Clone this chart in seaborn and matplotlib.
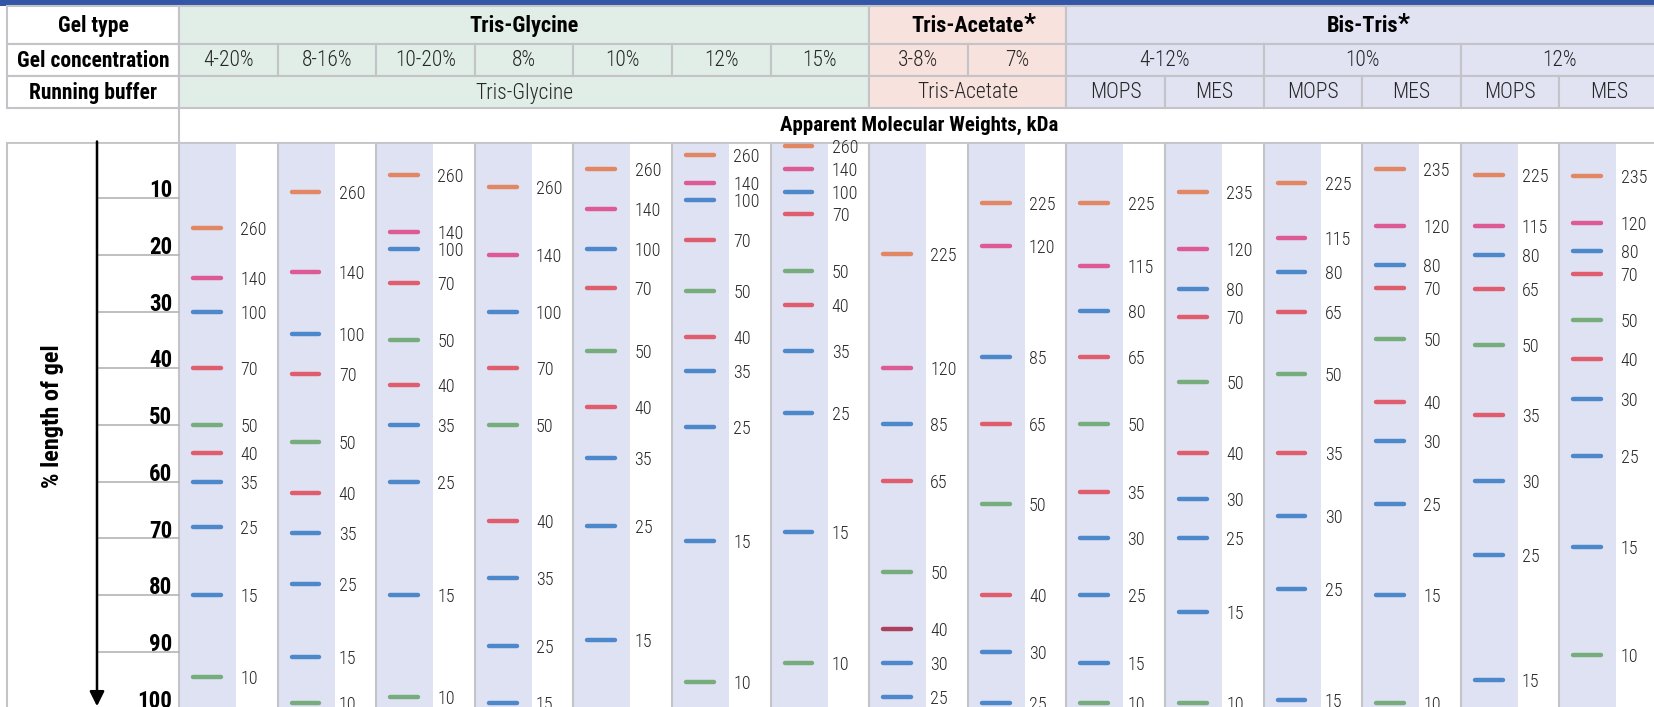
import matplotlib
matplotlib.use("Agg")
import matplotlib.pyplot as plt
from matplotlib import font_manager
from matplotlib.patches import Rectangle
import seaborn as sns

# ---- header table text ----
gel_types = ["Tris-Glycine", "Tris-Acetate", "Bis-Tris"]
gel_type_spans = [7, 2, 6]
gel_type_star = [False, True, True]
concentrations = ["4-20%", "8-16%", "10-20%", "8%", "10%", "12%", "15%",
                  "3-8%", "7%", "4-12%", "10%", "12%"]
conc_spans = [1, 1, 1, 1, 1, 1, 1, 1, 1, 2, 2, 2]
buffers = ["Tris-Glycine", "Tris-Acetate", "MOPS", "MES", "MOPS", "MES", "MOPS", "MES"]
buffer_spans = [7, 2, 1, 1, 1, 1, 1, 1]
row_titles = ["Gel type", "Gel concentration", "Running buffer"]
axis_ticks = [10, 20, 30, 40, 50, 60, 70, 80, 90, 100]

# ---- bands: apparent MW (kDa), migration (% length of gel), colour key ----
lane_mw = [
    [260, 140, 100, 70, 50, 40, 35, 25, 15, 10],
    [260, 140, 100, 70, 50, 40, 35, 25, 15, 10],
    [260, 140, 100, 70, 50, 40, 35, 25, 15, 10],
    [260, 140, 100, 70, 50, 40, 35, 25, 15],
    [260, 140, 100, 70, 50, 40, 35, 25, 15],
    [260, 140, 100, 70, 50, 40, 35, 25, 15, 10],
    [260, 140, 100, 70, 50, 40, 35, 25, 15, 10],
    [225, 120, 85, 65, 50, 40, 30, 25],
    [225, 120, 85, 65, 50, 40, 30, 25],
    [225, 115, 80, 65, 50, 35, 30, 25, 15, 10],
    [235, 120, 80, 70, 50, 40, 30, 25, 15, 10],
    [225, 115, 80, 65, 50, 35, 30, 25, 15],
    [235, 120, 80, 70, 50, 40, 30, 25, 15, 10],
    [225, 115, 80, 65, 50, 35, 30, 25, 15],
    [235, 120, 80, 70, 50, 40, 30, 25, 15, 10],
]
lane_pos = [
    [15.3, 24, 30, 40, 50, 55, 60, 68, 80, 94.5],
    [8.9, 23, 34, 41, 53, 62, 69, 78, 91, 99],
    [5.9, 16, 19, 25, 35, 43, 50, 60, 80, 98],
    [8, 20, 30, 40, 50, 67, 77, 89, 99],
    [4.9, 11.9, 18.9, 25.9, 36.9, 46.9, 55.9, 67.9, 87.9],
    [2.4, 7.3, 10.3, 17.4, 26.4, 34.4, 40.4, 50.4, 70.4, 95.4],
    [0.8, 4.9, 8.9, 12.8, 22.8, 28.8, 36.9, 47.9, 68.9, 91.9],
    [19.9, 39.9, 49.9, 59.9, 75.9, 86, 92, 98],
    [10.9, 18.5, 38, 49.9, 63.9, 80, 90, 99],
    [10.8, 21.9, 29.9, 38, 49.9, 61.9, 69.9, 79.9, 92, 99],
    [8.9, 18.9, 26, 31, 42.4, 54.9, 63, 69.9, 83, 99],
    [7.3, 17, 23, 30, 41, 54.9, 66, 79, 98.5],
    [4.9, 14.9, 21.7, 25.9, 34.9, 45.9, 52.9, 63.9, 79.9, 99],
    [5.9, 14.9, 20, 26, 35.9, 48.2, 59.9, 72.9, 95],
    [6, 14.4, 19.4, 23.4, 31.5, 38.4, 45.4, 55.5, 71.5, 90.5],
]
lane_col = ["OPBRGRBBBG", "OPBRGRBBBG", "OPBRGRBBBG", "OPBRGRBBB", "OPBRGRBBB",
            "OPBRGRBBBG", "OPBRGRBBBG", "OPBRGDBB", "OPBRGRBB", "OPBRGRBBBG",
            "OPBRGRBBBG", "OPBRGRBBB", "OPBRGRBBBG", "OPBRGRBBB", "OPBRGRBBBG"]

band_colors = {"O": "#e27d55", "P": "#de4b8b", "B": "#3d7ec6", "R": "#df4f5e",
               "G": "#6ca870", "D": "#a62f4c"}
group_fill = ["#e1eee7", "#f8e2dd", "#e1e3f2"]
lane_bg = "#dfe2f3"
grid = "#c4c4c8"
txt = "#262626"

sns.set_theme(style="white")

# condensed face if one is installed, otherwise a regular sans at smaller sizes
installed = {f.name for f in font_manager.fontManager.ttflist}
narrow = [f for f in ["Roboto Condensed", "Liberation Sans Narrow"] if f in installed]
if narrow:
    plt.rcParams["font.family"] = [narrow[0], "DejaVu Sans"]
    fs = 1.0
else:
    plt.rcParams["font.family"] = ["Liberation Sans", "DejaVu Sans"]
    fs = 0.88

W, H = 1654, 707
fig = plt.figure(figsize=(W / 100, H / 100), dpi=100)

# ---- header (pixel layout) ----
hx = fig.add_axes([0, 0, 1, 1], zorder=0)
hx.set_xlim(0, W)
hx.set_ylim(H, 0)
hx.axis("off")

x0, lw_ = 179, 98.6
rows = [(6, 44), (44, 76), (76, 108)]
lane_group = [0] * 7 + [1] * 2 + [2] * 6

hx.add_patch(Rectangle((0, 0), W, 6, color="#3356a6", lw=0))

def cell(x, y, w, h, fc):
    hx.add_patch(Rectangle((x, y), w, h, facecolor=fc, edgecolor=grid, lw=1.5))

for (top, bot), title in zip(rows, row_titles):
    cell(7, top, x0 - 7, bot - top, "white")
    hx.text(93, (top + bot) / 2 + 1, title, ha="center", va="center",
            fontsize=15.5 * fs, fontweight="bold", color="black")

def draw_row(r, labels, spans, bold=False, stars=None):
    top, bot = rows[r]
    start = 0
    for k, (lab, sp) in enumerate(zip(labels, spans)):
        xa = x0 + start * lw_
        cell(xa, top, sp * lw_, bot - top, group_fill[lane_group[start]])
        t = hx.text(xa + sp * lw_ / 2, (top + bot) / 2 + 1, lab, ha="center", va="center",
                    fontsize=(16 if bold else 15.5) * fs, color="black" if bold else txt,
                    fontweight="bold" if bold else "light")
        if stars and stars[k]:
            hx.annotate("*", xy=(1.0, 1.12), xycoords=t, ha="left", va="top",
                        fontsize=19 * fs, fontweight="bold", color="black")
        start += sp

draw_row(0, gel_types, gel_type_spans, bold=True, stars=gel_type_star)
draw_row(1, concentrations, conc_spans)
draw_row(2, buffers, buffer_spans)

hx.plot([x0, x0], [108, 141.5], color=grid, lw=1.5)
hx.text(919, 125, "Apparent Molecular Weights, kDa", ha="center", va="center",
        fontsize=15 * fs, fontweight="bold", color="black")

# ---- gel lanes (data axes: lane index vs % length of gel) ----
ax = fig.add_axes([0, 0, 1, (H - 141.5) / H], zorder=1)
ax.patch.set_alpha(0)
ax.set_xlim(-x0 / lw_, (W - x0) / lw_)
ax.set_ylim((H - 141.5) / 5.67, 0)
ax.axis("off")

for i in range(len(lane_mw)):
    ax.axvspan(i, i + 0.578, color=lane_bg, lw=0, zorder=0)
    ax.axvline(i, color=grid, lw=1.5, zorder=1)
    for mw, pos, c in zip(lane_mw[i], lane_pos[i], lane_col[i]):
        ax.hlines(pos, i + 0.142, i + 0.423, colors=band_colors[c], lw=3.2,
                  capstyle="round", alpha=0.9, zorder=3)
        ax.text(i + 0.62, pos + 0.35, str(mw), ha="left", va="center",
                fontsize=13 * fs, fontweight="light", color=txt, zorder=4, clip_on=False)

# borders of plot region
ax.axhline(0, xmin=7 / W, color=grid, lw=2, zorder=2)
ax.axvline((7 - x0) / lw_, color=grid, lw=1.5, zorder=2)

# % length axis
xa = (97 - x0) / lw_
for p in axis_ticks:
    ax.plot([xa, 0], [p, p], color="#b4b4b4", lw=1.2, zorder=2, clip_on=False)
    ax.text(-7 / lw_, p - 0.15, str(p), ha="right", va="baseline", fontsize=16.5 * fs,
            fontweight="bold", color="black", clip_on=False)
ax.annotate("", xy=(xa, 99.6), xytext=(xa, 0),
            arrowprops=dict(arrowstyle="-|>", color="black", lw=1.8,
                            mutation_scale=22, shrinkA=0, shrinkB=0))
ax.text((52 - x0) / lw_, 48.4, "% length of gel", rotation=90, ha="center",
        va="center", fontsize=17.5 * fs, fontweight="bold", color="black")

fig.savefig("out.png", dpi=100)
